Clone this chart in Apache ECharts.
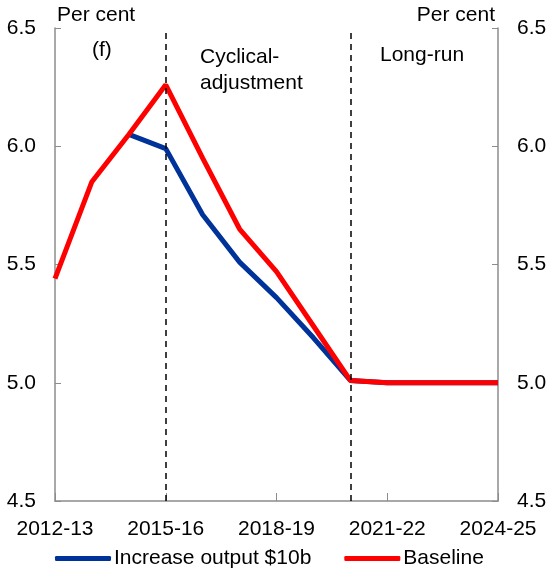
<!DOCTYPE html>
<html><head><meta charset="utf-8">
<script src="https://cdn.jsdelivr.net/npm/echarts@6/dist/echarts.min.js"></script>
<style>html,body{margin:0;padding:0;background:#fff}#c{width:552px;height:572px}</style>
</head><body><div id="c"></div>
<script>
const categories = ['2012-13','2013-14','2014-15','2015-16','2016-17','2017-18','2018-19','2019-20','2020-21','2021-22','2022-23','2023-24','2024-25'];
const increaseOutput = [null, null, 6.05, 5.99, 5.71, 5.51, 5.36, 5.19, 5.01, 5.00, 5.00, 5.00, 5.00];
const baseline = [5.44, 5.85, 6.05, 6.26, 5.95, 5.65, 5.47, 5.24, 5.01, 5.00, 5.00, 5.00, 5.00];
const yTicks = [4.5, 5.0, 5.5, 6.0, 6.5];
const phaseLines = ['2015-16', '2020-21'];
const F = 'Liberation Sans, Arial, sans-serif';
const FS = 21;
const chart = echarts.init(document.getElementById('c'));
const axisGray = '#8c8c8c';
const yAxisBase = {
  type: 'value', min: 4.5, max: 6.5, interval: 0.5,
  axisLine: {show: true, lineStyle: {color: axisGray, width: 1.5}},
  axisTick: {show: true, inside: true, length: 6, lineStyle: {color: axisGray}},
  splitLine: {show: false},
  axisLabel: {color: '#000', fontSize: FS, fontFamily: F, formatter: v => v.toFixed(1), margin: 19}
};
chart.setOption({
  animation: false,
  grid: {left: 55, right: 54, top: 28, bottom: 71},
  xAxis: {
    type: 'category', data: categories, boundaryGap: false,
    axisLine: {lineStyle: {color: axisGray, width: 1.5}},
    axisTick: {show: true, inside: true, length: 8, interval: 2, lineStyle: {color: axisGray}},
    axisLabel: {color: '#000', fontSize: FS, fontFamily: F, interval: 2, margin: 18},
    splitLine: {show: false}
  },
  yAxis: [
    Object.assign({}, yAxisBase, {position: 'left'}),
    Object.assign({}, yAxisBase, {position: 'right'})
  ],
  legend: {
    bottom: -2, left: 50, itemGap: 33, itemWidth: 56, itemHeight: 5,
    icon: 'roundRect',
    textStyle: {fontSize: FS, fontFamily: F, color: '#000', padding: [0,0,0,-2]},
    data: ['Increase output $10b', 'Baseline']
  },
  graphic: [
    {type: 'text', left: 57, top: 5, style: {text: 'Per cent', font: FS + 'px ' + F, fill: '#000'}},
    {type: 'text', right: 57, top: 5, style: {text: 'Per cent', font: FS + 'px ' + F, fill: '#000'}},
    {type: 'text', left: 92, top: 40, style: {text: '(f)', font: FS + 'px ' + F, fill: '#000'}},
    {type: 'text', left: 200, top: 44, style: {text: 'Cyclical-\nadjustment', font: FS + 'px ' + F, fill: '#000', lineHeight: 26}},
    {type: 'text', left: 380, top: 45, style: {text: 'Long-run', font: FS + 'px ' + F, fill: '#000'}}
  ],
  series: [
    {
      name: 'Increase output $10b', type: 'line', data: increaseOutput,
      showSymbol: false, symbol: 'none', lineStyle: {color: '#003399', width: 5}, itemStyle: {color: '#003399'},
      z: 3,
      markLine: {
        silent: true, symbol: ['none','none'], label: {show: false},
        lineStyle: {color: '#000', type: [6, 5], width: 1.5},
        data: phaseLines.map(c => ({xAxis: c}))
      }
    },
    {
      name: 'Baseline', type: 'line', data: baseline,
      showSymbol: false, symbol: 'none', lineStyle: {color: '#ff0000', width: 5}, itemStyle: {color: '#ff0000'},
      z: 4
    }
  ]
});
</script></body></html>
